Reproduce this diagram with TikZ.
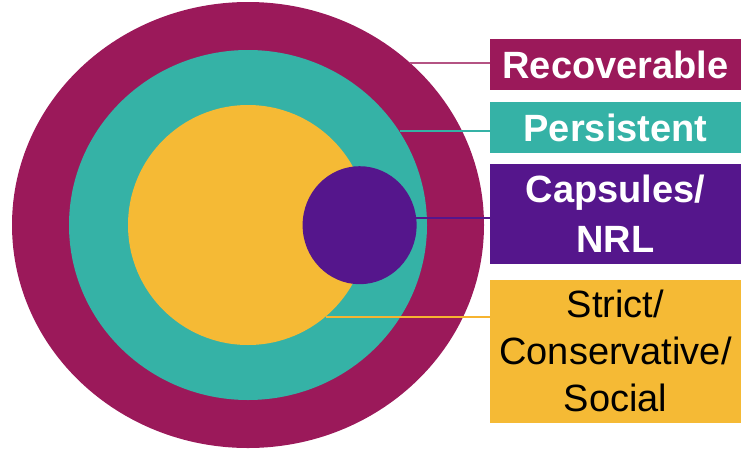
\documentclass[tikz,border=0pt]{standalone}
\usepackage{fontspec}
\setmainfont{Liberation Sans}

\definecolor{ringmaroon}{HTML}{9B195A}
\definecolor{ringteal}{HTML}{35B2A6}
\definecolor{ringyellow}{HTML}{F5BA35}
\definecolor{ringpurple}{HTML}{55168C}

\tikzset{
  labelbox/.style={minimum width=251pt, inner sep=0pt, align=center, font=\fontsize{38}{47}\selectfont},
  whitelabel/.style={labelbox, text=white, font=\fontsize{38}{50}\selectfont\bfseries},
  leader/.style={line width=1.5pt}
}

\begin{document}
\begin{tikzpicture}[x=1pt,y=-1pt]

\useasboundingbox (0,0) rectangle (741,450);

% Define the centre of the rings
\def\cx{248}
\def\cy{225}

% Draw rings
\fill[ringmaroon] (\cx,\cy) ellipse [x radius=236, y radius=223];
\fill[ringteal] (\cx,\cy) ellipse [x radius=179, y radius=175];
\fill[ringyellow] (\cx,\cy) ellipse [x radius=120, y radius=120];
\fill[ringpurple] (359.6,225.2) ellipse [x radius=57, y radius=59];

% Draw label boxes
\node[whitelabel, minimum height=51pt, fill=ringmaroon] (recov) at (615.5,64.5) {Recoverable};
\node[whitelabel, minimum height=51.5pt, fill=ringteal] (persist) at (615.5,127.5) {Persistent};
\node[whitelabel, minimum height=100pt, fill=ringpurple] (caps) at (615.5,214) {Capsules/\\NRL};
\node[labelbox, minimum height=143pt, fill=ringyellow, text=black] (strict) at (615.5,351) {Strict/\\Conservative/\\Social};

% Draw leader lines from ring edges
\coordinate (recovend) at (410,63);
\coordinate (persistend) at (400,131);
\coordinate (capsend) at (416,217.7);
\coordinate (strictend) at (325.5,317);

\draw[leader, ringmaroon!75!white] (recovend) -- (recovend -| recov.west);
\draw[leader, ringteal] (persistend) -- (persistend -| persist.west);
\draw[leader, line width=2pt, ringpurple] (capsend) -- (capsend -| caps.west);
\draw[leader, ringyellow!90!orange] (strictend) -- (strictend -| strict.west);

\end{tikzpicture}
\end{document}
